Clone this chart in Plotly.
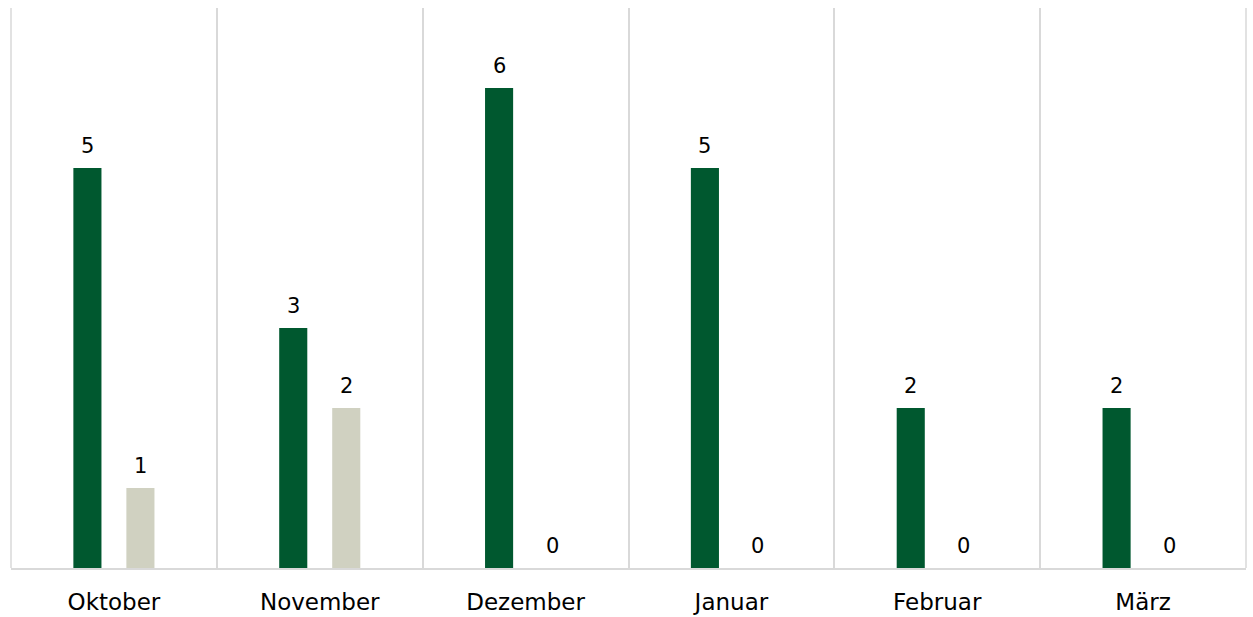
import plotly.graph_objects as go

months = ["Oktober", "November", "Dezember", "Januar", "Februar", "März"]
series_a = [5, 3, 6, 5, 2, 2]
series_b = [1, 2, 0, 0, 0, 0]

font_family = "DejaVu Sans, Verdana, sans-serif"
colors = ["#00582f", "#d0d1c1"]

fig = go.Figure()
for idx, (vals, col) in enumerate(zip([series_a, series_b], colors)):
    fig.add_trace(go.Bar(
        x=months, y=vals, marker_color=col, marker_line_width=0,
        offsetgroup=str(idx),
    ))

# value labels above each bar
for idx, vals in enumerate([series_a, series_b]):
    for i, (m, v) in enumerate(zip(months, vals)):
        fig.add_annotation(
            x=i, y=v, xref="x", yref="y", text=str(v), showarrow=False,
            xshift=(-26.5 if idx == 0 else 26.5), yshift=8, yanchor="bottom",
            font=dict(family=font_family, size=21, color="#000000"),
        )

# outer frame lines on the left and right of the plot
for xp in (0, 1):
    fig.add_shape(type="line", xref="paper", yref="paper", x0=xp, x1=xp, y0=0, y1=1,
                  line=dict(color="#d9d9d9", width=1.5))

fig.update_layout(
    width=1253, height=617,
    margin=dict(l=11, r=7, t=8, b=49),
    plot_bgcolor="white", paper_bgcolor="white",
    barmode="group", bargap=0.485, bargroupgap=0.47,
    showlegend=False,
    font=dict(family=font_family, size=21, color="#000000"),
    xaxis=dict(
        tickson="boundaries", showgrid=True, gridcolor="#d9d9d9", gridwidth=1.5,
        showline=True, linecolor="#d9d9d9", linewidth=1.5,
        ticks="", ticklabelstandoff=13, automargin=False,
        tickfont=dict(family=font_family, size=23, color="#000000"),
    ),
    yaxis=dict(range=[0, 7], showgrid=False, showticklabels=False, zeroline=False,
               showline=False, automargin=False),
)

fig.write_html("out.html")
